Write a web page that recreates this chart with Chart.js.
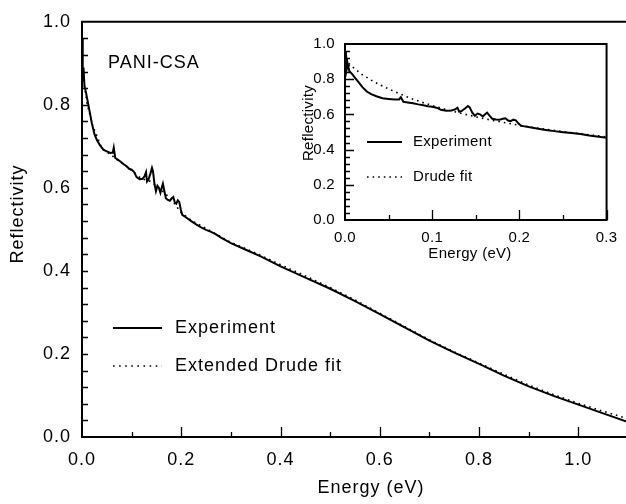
<!DOCTYPE html>
<html>
<head>
<meta charset="utf-8">
<script src="https://cdn.jsdelivr.net/npm/chart.js@4"></script>
<style>
  html, body { margin: 0; padding: 0; background: #fff; overflow: hidden; }
  #wrap { position: relative; width: 626px; height: 504px; overflow: hidden; background: #fff; }
  #main  { position: absolute; left: 0; top: 0; }
  #inset { position: absolute; left: 296px; top: 25px; }
</style>
</head>
<body>
<div id="wrap">
  <canvas id="main" width="640" height="504" style="width:640px;height:504px"></canvas>
  <canvas id="inset" width="330" height="240" style="width:330px;height:240px"></canvas>
</div>
<script>
const expEnergy = [0, 0.001, 0.002, 0.003, 0.005, 0.008, 0.012, 0.016, 0.02, 0.025, 0.03, 0.036, 0.043,
  0.05, 0.057, 0.062, 0.064, 0.067, 0.072, 0.078, 0.084, 0.09, 0.095, 0.1, 0.105, 0.11, 0.116, 0.122,
  0.126, 0.129, 0.131, 0.134, 0.138, 0.141, 0.143, 0.146, 0.149, 0.152, 0.155, 0.158, 0.161, 0.163,
  0.166, 0.169, 0.173, 0.177, 0.181, 0.184, 0.187, 0.19, 0.193, 0.196, 0.199, 0.202, 0.206, 0.212,
  0.22, 0.23, 0.24, 0.25, 0.26, 0.27, 0.28, 0.3, 0.33, 0.36, 0.4, 0.45, 0.5, 0.55, 0.6, 0.65, 0.7,
  0.75, 0.8, 0.85, 0.9, 0.95, 1.0, 1.05, 1.1]
const expRefl = [0.90, 0.96, 0.86, 0.89, 0.845, 0.83, 0.805, 0.78, 0.755, 0.73, 0.715, 0.703, 0.692,
  0.688, 0.684, 0.685, 0.697, 0.672, 0.668, 0.663, 0.657, 0.652, 0.646, 0.644, 0.638, 0.626, 0.621, 0.622,
  0.628, 0.638, 0.615, 0.62, 0.635, 0.648, 0.64, 0.61, 0.592, 0.605, 0.6, 0.588, 0.602, 0.61,
  0.592, 0.575, 0.571, 0.569, 0.575, 0.578, 0.565, 0.562, 0.57, 0.566, 0.548, 0.535, 0.532, 0.527,
  0.52, 0.512, 0.505, 0.499, 0.494, 0.488, 0.480, 0.467, 0.451, 0.435, 0.411, 0.384, 0.357, 0.327, 0.296, 0.264, 0.232,
  0.203, 0.176, 0.148, 0.122, 0.099, 0.078, 0.057, 0.036]

// extended Drude fit (main panel)
const extEnergy = [0, 0.005, 0.01, 0.02, 0.04, 0.06, 0.08, 0.1, 0.12, 0.14, 0.16, 0.18, 0.2, 0.22, 0.25,
  0.3, 0.35, 0.4, 0.45, 0.5, 0.55, 0.6, 0.65, 0.7, 0.75, 0.8, 0.85, 0.9, 0.95, 1.0, 1.05, 1.1]
const extRefl = [0.90, 0.845, 0.805, 0.755, 0.695, 0.678, 0.66, 0.642, 0.622, 0.615, 0.595, 0.572, 0.54,
  0.522, 0.502, 0.469, 0.443, 0.415, 0.388, 0.36, 0.33, 0.298, 0.266, 0.234, 0.205, 0.178, 0.151, 0.125,
  0.102, 0.081, 0.062, 0.044]

// simple Drude fit (inset)
const drudeEnergy = [0, 0.003, 0.006, 0.01, 0.02, 0.03, 0.04, 0.05, 0.06, 0.07, 0.08, 0.09, 0.1, 0.12,
  0.14, 0.16, 0.18, 0.2, 0.22, 0.25, 0.28, 0.3]
const drudeRefl = [0.95, 0.90, 0.88, 0.865, 0.825, 0.795, 0.768, 0.745, 0.723, 0.702, 0.683, 0.666, 0.65,
  0.622, 0.598, 0.575, 0.556, 0.538, 0.522, 0.502, 0.484, 0.472]

const mainLegend  = ['Experiment', 'Extended Drude fit']
const insetLegend = ['Experiment', 'Drude fit']
const sampleName  = 'PANI-CSA'

const FONT = "'Liberation Sans', Arial, sans-serif"
const pts = (xs, ys, maxX) => xs.map((x, i) => ({ x, y: ys[i] })).filter(p => p.x <= maxX + 1e-9)
const fix1 = v => Number(v).toFixed(1)

// frame (axes box) and inward ticks, positions taken from the scales
const frameTicks = {
  id: 'frameTicks',
  beforeDraw(chart, args, o) {
    chart.ctx.letterSpacing = o.spacing || '0px'
  },
  afterDatasetsDraw(chart, args, o) {
    const { ctx, chartArea: a, scales: { x, y } } = chart
    ctx.save()
    ctx.strokeStyle = '#000'
    ctx.lineWidth = o.lineWidth
    ctx.lineCap = 'square'
    ctx.beginPath()
    ctx.moveTo(a.left, a.top); ctx.lineTo(a.left, a.bottom); ctx.lineTo(a.right, a.bottom)
    ctx.moveTo(a.left, a.top); ctx.lineTo(a.right, a.top)
    if (o.box) { ctx.moveTo(a.right, a.top); ctx.lineTo(a.right, a.bottom) }
    ctx.stroke()

    ctx.lineWidth = 1.3
    ctx.lineCap = 'butt'
    ctx.beginPath()
    const n = Math.round((x.max - x.min) / o.xMinor)
    for (let i = 1; i <= n; i++) {
      const v = x.min + i * o.xMinor
      const px = Math.round(x.getPixelForValue(v)) + 0.5
      const major = Math.abs(v / o.xMajor - Math.round(v / o.xMajor)) < 1e-6
      ctx.moveTo(px, a.bottom); ctx.lineTo(px, a.bottom - (major ? o.xMajorLen : o.xMinorLen))
    }
    const m = Math.round((y.max - y.min) / o.yMinor)
    for (let i = 1; i < m; i++) {
      const v = y.min + i * o.yMinor
      const py = Math.round(y.getPixelForValue(v)) + 0.5
      const major = Math.abs(v / o.yMajor - Math.round(v / o.yMajor)) < 1e-6
      ctx.moveTo(a.left, py); ctx.lineTo(a.left + (major ? o.yMajorLen : o.yMinorLen), py)
    }
    ctx.stroke()
    ctx.restore()
  }
}

// free text: axis titles, sample name and the legend
const notes = {
  id: 'notes',
  afterDraw(chart, args, o) {
    const { ctx } = chart
    ctx.save()
    ctx.fillStyle = '#000'
    ctx.strokeStyle = '#000'
    ctx.textBaseline = 'middle'
    for (const t of o.texts) {
      ctx.save()
      ctx.font = `${t.size}px ${FONT}`
      ctx.textAlign = t.align || 'left'
      ctx.translate(t.x, t.y)
      if (t.rotate) ctx.rotate(-Math.PI / 2)
      ctx.fillText(t.text, 0, 0)
      ctx.restore()
    }
    o.legend.forEach((ds, i) => {
      const yy = o.legendY[i]
      ctx.beginPath()
      ctx.lineWidth = ds.width
      ctx.setLineDash(ds.dash)
      ctx.moveTo(o.lineX[0], yy); ctx.lineTo(o.lineX[1], yy)
      ctx.stroke()
      ctx.setLineDash([])
      ctx.font = `${o.size}px ${FONT}`
      ctx.textAlign = 'left'
      ctx.fillText(ds.label, o.textX, yy)
    })
    ctx.restore()
  }
}

Chart.register(frameTicks, notes)

function scales(xMax, xStep, yw, xh, size, pad) {
  const tickFont = { family: FONT, size }
  return {
    x: {
      type: 'linear', min: 0, max: xMax,
      grid: { display: false, drawTicks: false },
      border: { display: false },
      ticks: { stepSize: xStep, includeBounds: false, color: '#000', font: tickFont,
               padding: pad[0], maxRotation: 0, callback: fix1 },
      afterFit: s => { s.height = xh }
    },
    y: {
      type: 'linear', min: 0, max: 1,
      grid: { display: false, drawTicks: false },
      border: { display: false },
      ticks: { stepSize: 0.2, color: '#000', font: tickFont, padding: pad[1], callback: fix1 },
      afterFit: s => { s.width = yw }
    }
  }
}

const solid  = { borderColor: '#000', borderWidth: 2, pointRadius: 0, tension: 0, fill: false }
const dotted = { borderColor: '#000', borderWidth: 1.6, borderDash: [1.6, 4], pointRadius: 0, tension: 0, fill: false }

new Chart(document.getElementById('main'), {
  type: 'line',
  data: {
    datasets: [
      { ...dotted, label: mainLegend[1], data: pts(extEnergy, extRefl, 1.1), order: 1 },
      { ...solid,  label: mainLegend[0], data: pts(expEnergy, expRefl, 1.1), order: 2 }
    ]
  },
  options: {
    responsive: false, animation: false, events: [],
    layout: { padding: { top: 20, right: 12, left: 0, bottom: 0 } },
    scales: scales(1.1, 0.2, 82, 67, 18, [12, 11]),
    plugins: {
      legend: { display: false }, tooltip: { enabled: false },
      frameTicks: { lineWidth: 2, box: false, spacing: '1px',
        xMinor: 0.1, xMajor: 0.2, xMajorLen: 10, xMinorLen: 5,
        yMinor: 0.04, yMajor: 0.2, yMajorLen: 6, yMinorLen: 6 },
      notes: {
        texts: [
          { text: sampleName, x: 108, y: 63, size: 18 },
          { text: 'Reflectivity', x: 18, y: 214, size: 18, align: 'center', rotate: true },
          { text: 'Energy (eV)', x: 371, y: 488, size: 18, align: 'center' }
        ],
        legend: [
          { label: mainLegend[0], width: 2, dash: [] },
          { label: mainLegend[1], width: 1.6, dash: [1.6, 4.5] }
        ],
        legendY: [328, 366], lineX: [113, 162], textX: 175, size: 18
      }
    }
  }
})

new Chart(document.getElementById('inset'), {
  type: 'line',
  data: {
    datasets: [
      { ...dotted, label: insetLegend[1], data: pts(drudeEnergy, drudeRefl, 0.3), order: 1 },
      { ...solid,  label: insetLegend[0], data: pts(expEnergy, expRefl, 0.3), order: 2 }
    ]
  },
  options: {
    responsive: false, animation: false, events: [],
    layout: { padding: { top: 8, right: 16, left: 0, bottom: 0 } },
    scales: scales(0.3, 0.1, 49, 45, 15, [9, 10]),
    plugins: {
      legend: { display: false }, tooltip: { enabled: false },
      frameTicks: { lineWidth: 2, box: true, spacing: '0.3px',
        xMinor: 0.05, xMajor: 0.1, xMajorLen: 10, xMinorLen: 5,
        yMinor: 0.04, yMajor: 0.2, yMajorLen: 9, yMinorLen: 5 },
      notes: {
        texts: [
          { text: 'Reflectivity', x: 13, y: 98, size: 15, align: 'center', rotate: true },
          { text: 'Energy (eV)', x: 174, y: 229, size: 15, align: 'center' }
        ],
        legend: [
          { label: insetLegend[0], width: 2, dash: [] },
          { label: insetLegend[1], width: 1.6, dash: [1.6, 4] }
        ],
        legendY: [117, 152], lineX: [71, 106], textX: 117, size: 15
      }
    }
  }
})
</script>
</body>
</html>
